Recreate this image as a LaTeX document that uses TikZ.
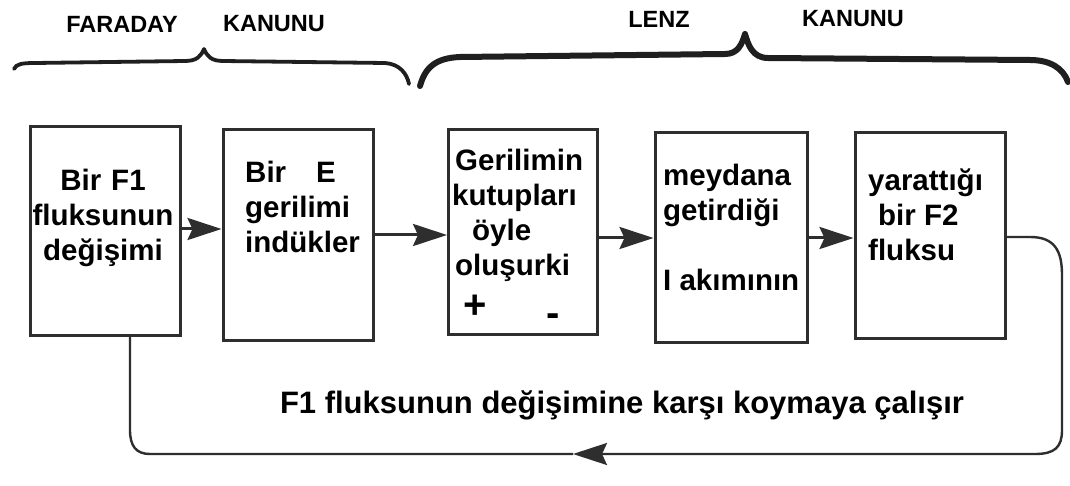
\documentclass[tikz,border=0pt]{standalone}
\usepackage{fontspec}
\setmainfont{Liberation Sans}
\usetikzlibrary{arrows.meta,calc}
\definecolor{ink}{HTML}{2E2E2E}
\tikzset{
  boxnode/.style={draw=ink, line width=3pt, inner sep=0pt},
  boxtext/.style={font=\bfseries\fontsize{29.5}{35}\selectfont, inner sep=0pt, text=black},
  lawtext/.style={font=\bfseries\fontsize{23.5}{26}\selectfont, inner sep=0pt},
  headtip/.style={-{Stealth[length=34pt,width=22pt,inset=5pt]}},
  flowarrow/.style={draw=ink, line width=3pt, headtip},
  loopline/.style={draw=ink, line width=2.4pt},
  bracepath/.style={draw=black!88, line cap=round, line join=round}
}
\begin{document}
\begin{tikzpicture}[x=1pt,y=-1pt]
\useasboundingbox (0,0) rectangle (1070,486);
\fill[white] (0,0) rectangle (1070,486);

% law labels
\node[lawtext] (faraday) at (122,24) {FARADAY};
\node[lawtext] (kanunu1) at (274,24) {KANUNU};
\node[lawtext] (lenz) at (659,19) {LENZ};
\node[lawtext] (kanunu2) at (853,19) {KANUNU};

% braces
\draw[bracepath, line width=3.8pt] (14,69) .. controls (16,64) and (22,63) .. (35,63) -- (185,61)
  .. controls (197,61) and (201,56) .. (204,49) .. controls (207,56) and (211,61) .. (223,61)
  -- (385,63) .. controls (400,64) and (407,74) .. (409,84);
\draw[bracepath, line width=6pt] (420,86) .. controls (425,68) and (435,58) .. (460,57)
  -- (725,54) .. controls (738,54) and (742,44) .. (745,34) .. controls (748,44) and (752,58) .. (768,58)
  -- (1030,60) .. controls (1050,60) and (1063,68) .. (1068,82);

% boxes
\node[boxnode, minimum width=150pt, minimum height=208pt] (b1) at (105,231) {};
\node[boxnode, minimum width=150pt, minimum height=210pt] (b2) at (298,235) {};
\node[boxnode, minimum width=149pt, minimum height=205pt] (b3) at (523,232) {};
\node[boxnode, minimum width=152pt, minimum height=209pt] (b4) at (731,237.5) {};
\node[boxnode, minimum width=150pt, minimum height=205pt] (b5) at (930,235.5) {};

% texts
\node[boxtext, align=center] (t1) at (103,218) {Bir\hspace{10pt}F1\\fluksunun\\değişimi};
\node[boxtext, align=left, anchor=west] (t2) at (245,207) {Bir\hspace{30pt}E\\gerilimi\\indükler};
\node[boxtext, align=left, anchor=west] (t3) at (452,215) {\hspace*{3pt}Gerilimin\\kutupları\\\hspace*{20pt}öyle\\\hspace*{3pt}oluşurki};
\node[boxtext, font=\bfseries\fontsize{40}{40}\selectfont] (plus) at (475,307) {+};
\node[boxtext, font=\bfseries\fontsize{40}{40}\selectfont] (minus) at (553,320) {-};
\node[boxtext, align=left, anchor=west] (t4) at (663,227) {meydana\\getirdiği\\[35pt]I akımının};
\node[boxtext, align=left, anchor=west] (t5) at (868,215) {yarattığı\\\hspace*{10pt}bir F2\\fluksu};

% arrows
\draw[flowarrow] (b1.east |- 0,229) -- (b2.west |- 0,229);
\draw[flowarrow] (b2.east |- 0,235) -- (b3.west |- 0,235);
\draw[flowarrow] (b3.east |- 0,238) -- (b4.west |- 0,238);
\draw[flowarrow] (b4.east |- 0,238) -- (b5.west |- 0,238);

% feedback loop
\coordinate (loopmid) at (573,454);
\draw[loopline, headtip] (b5.east |- 0,237) -- (1030,237)
  .. controls (1054,237) and (1062,250) .. (1062,275) -- (1062,430)
  .. controls (1062,447) and (1055,454) .. (1035,454) -- (loopmid);
\draw[loopline] (loopmid) -- (150,454) .. controls (136,454) and (130,446) .. (130,430)
  -- ($(b1.south)+(25,0)$);

\node[font=\bfseries\fontsize{31}{34}\selectfont, inner sep=0pt] (note) at (622,405)
  {F1 fluksunun değişimine karşı koymaya çalışır};
\end{tikzpicture}
\end{document}
